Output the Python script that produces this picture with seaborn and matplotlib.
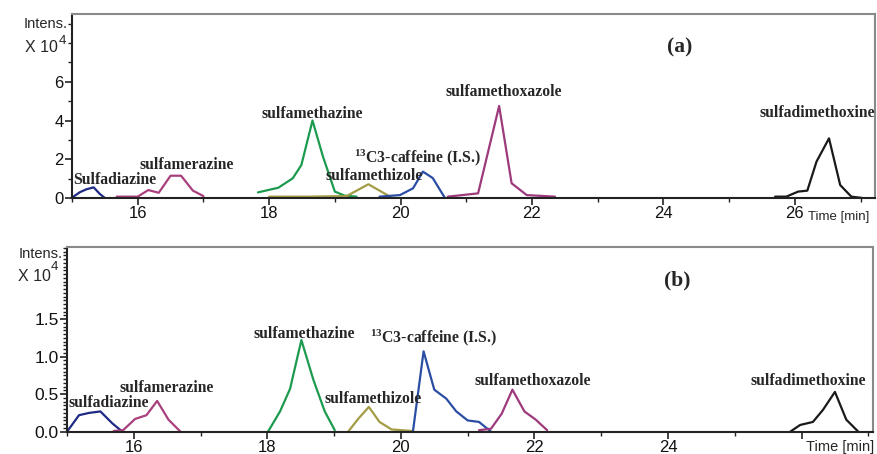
import matplotlib
matplotlib.use("Agg")
import matplotlib.pyplot as plt
from matplotlib.ticker import MultipleLocator
import seaborn as sns
import pandas as pd

# --- panel (a): retention time [min] and intensity [x10^4] ---
a_sulfadiazine_t = [15.0, 15.12, 15.22, 15.33, 15.42, 15.5]
a_sulfadiazine_y = [0.02, 0.3, 0.45, 0.55, 0.22, 0.0]
a_sulfamerazine_t = [15.68, 16.0, 16.16, 16.32, 16.5, 16.66, 16.84, 17.0]
a_sulfamerazine_y = [0.07, 0.07, 0.41, 0.27, 1.15, 1.15, 0.38, 0.1]
a_sulfamethazine_t = [17.83, 18.14, 18.36, 18.49, 18.66, 18.82, 19.0, 19.15, 19.33]
a_sulfamethazine_y = [0.29, 0.53, 1.02, 1.7, 4.0, 2.13, 0.33, 0.12, 0.07]
a_sulfamethizole_t = [18.0, 18.6, 19.18, 19.51, 19.84]
a_sulfamethizole_y = [0.07, 0.07, 0.1, 0.71, 0.07]
a_caffeine_t = [19.68, 19.99, 20.19, 20.34, 20.49, 20.67]
a_caffeine_y = [0.07, 0.15, 0.5, 1.36, 1.03, 0.03]
a_sulfamethoxazole_t = [20.72, 21.18, 21.5, 21.69, 21.92, 22.35]
a_sulfamethoxazole_y = [0.07, 0.24, 4.75, 0.76, 0.15, 0.07]
a_sulfadimethoxine_t = [25.7, 25.87, 26.05, 26.19, 26.33, 26.52, 26.69, 26.86, 27.03]
a_sulfadimethoxine_y = [0.07, 0.07, 0.33, 0.38, 1.88, 3.08, 0.67, 0.07, 0.0]

# --- panel (b) ---
b_sulfadiazine_t = [15.0, 15.18, 15.33, 15.5, 15.68, 15.83]
b_sulfadiazine_y = [0.0, 0.22, 0.25, 0.27, 0.11, 0.0]
b_sulfamerazine_t = [15.7, 15.84, 16.02, 16.19, 16.35, 16.52, 16.7]
b_sulfamerazine_y = [0.01, 0.02, 0.17, 0.22, 0.41, 0.16, 0.0]
b_sulfamethazine_t = [18.01, 18.19, 18.34, 18.51, 18.69, 18.86, 19.01]
b_sulfamethazine_y = [0.0, 0.27, 0.57, 1.22, 0.69, 0.27, 0.02]
b_sulfamethizole_t = [19.21, 19.36, 19.52, 19.68, 19.86, 20.16]
b_sulfamethizole_y = [0.0, 0.17, 0.33, 0.13, 0.03, 0.01]
b_caffeine_t = [20.18, 20.34, 20.5, 20.68, 20.83, 21.0, 21.17, 21.35]
b_caffeine_y = [0.0, 1.07, 0.56, 0.44, 0.27, 0.15, 0.13, 0.0]
b_sulfamethoxazole_t = [21.17, 21.35, 21.51, 21.67, 21.85, 22.02, 22.19]
b_sulfamethoxazole_y = [0.02, 0.04, 0.24, 0.56, 0.27, 0.16, 0.02]
b_sulfadimethoxine_t = [25.83, 25.98, 26.17, 26.32, 26.5, 26.67, 26.85]
b_sulfadimethoxine_y = [0.0, 0.09, 0.13, 0.29, 0.53, 0.16, 0.0]

compounds = ["sulfadiazine", "sulfamerazine", "sulfamethazine", "sulfamethizole",
             "caffeine", "sulfamethoxazole", "sulfadimethoxine"]
colors = {"sulfadiazine": "#1f2a85", "sulfamerazine": "#a8407e",
          "sulfamethazine": "#1c9a4e", "sulfamethizole": "#a39c45",
          "caffeine": "#2a4ea3", "sulfamethoxazole": "#9c3a7c",
          "sulfadimethoxine": "#1a1a1a"}

panel_a = {
    "sulfadiazine": (a_sulfadiazine_t, a_sulfadiazine_y),
    "sulfamerazine": (a_sulfamerazine_t, a_sulfamerazine_y),
    "sulfamethazine": (a_sulfamethazine_t, a_sulfamethazine_y),
    "sulfamethizole": (a_sulfamethizole_t, a_sulfamethizole_y),
    "caffeine": (a_caffeine_t, a_caffeine_y),
    "sulfamethoxazole": (a_sulfamethoxazole_t, a_sulfamethoxazole_y),
    "sulfadimethoxine": (a_sulfadimethoxine_t, a_sulfadimethoxine_y),
}
panel_b = {
    "sulfadiazine": (b_sulfadiazine_t, b_sulfadiazine_y),
    "sulfamerazine": (b_sulfamerazine_t, b_sulfamerazine_y),
    "sulfamethazine": (b_sulfamethazine_t, b_sulfamethazine_y),
    "sulfamethizole": (b_sulfamethizole_t, b_sulfamethizole_y),
    "caffeine": (b_caffeine_t, b_caffeine_y),
    "sulfamethoxazole": (b_sulfamethoxazole_t, b_sulfamethoxazole_y),
    "sulfadimethoxine": (b_sulfadimethoxine_t, b_sulfadimethoxine_y),
}

# label text, x, y (data coords)
labels_a = [("Sulfadiazine", 15.02, 0.93, "left"),
            ("sulfamerazine", 16.74, 1.7, "center"),
            ("sulfamethazine", 18.65, 4.34, "center"),
            ("$^{13}$C3-caffeine (I.S.)", 20.26, 2.1, "center"),
            ("sulfamethizole", 19.6, 1.14, "center"),
            ("sulfamethoxazole", 21.57, 5.48, "center"),
            ("sulfadimethoxine", 26.34, 4.39, "center")]
labels_b = [("sulfadiazine", 15.62, 0.38, "center"),
            ("sulfamerazine", 16.5, 0.58, "center"),
            ("sulfamethazine", 18.56, 1.3, "center"),
            ("$^{13}$C3-caffeine (I.S.)", 20.49, 1.25, "center"),
            ("sulfamethizole", 19.58, 0.44, "center"),
            ("sulfamethoxazole", 21.98, 0.67, "center"),
            ("sulfadimethoxine", 26.1, 0.67, "center")]

sns.set_theme(style="ticks")
plt.rcParams["font.family"] = ["Liberation Sans", "DejaVu Sans"]
plt.rcParams["mathtext.fontset"] = "custom"
plt.rcParams["mathtext.rm"] = "Liberation Serif:bold"
plt.rcParams["mathtext.it"] = "Liberation Serif:bold"
plt.rcParams["mathtext.bf"] = "Liberation Serif:bold"


def to_long(panel):
    rows = []
    for name in compounds:
        t, y = panel[name]
        for ti, yi in zip(t, y):
            rows.append({"time": ti, "intensity": yi, "compound": name})
    return pd.DataFrame(rows)


def draw(ax, panel, labels, xlim, ylim):
    df = to_long(panel)
    sns.lineplot(data=df, x="time", y="intensity", hue="compound", palette=colors,
                 estimator=None, sort=False, linewidth=1.6, legend=False, ax=ax)
    ax.set_xlim(*xlim)
    ax.set_ylim(*ylim)
    ax.set_xlabel("")
    ax.set_ylabel("")
    for txt, x, y, ha in labels:
        ax.text(x, y, txt, ha=ha, va="center", fontsize=11.3, fontweight="bold",
                family="Liberation Serif")
    for side in ["left", "bottom"]:
        ax.spines[side].set_color("#222222")
        ax.spines[side].set_linewidth(1.5)
    for side in ["top", "right"]:
        ax.spines[side].set_color("#8a8a8a")
        ax.spines[side].set_linewidth(1.5)
    ax.xaxis.set_major_locator(MultipleLocator(2))
    ax.xaxis.set_minor_locator(MultipleLocator(1))
    ax.tick_params(axis="both", which="major", direction="out", length=5, width=1.2,
                   color="#222222", pad=1, labelcolor="#111111")
    ax.tick_params(axis="both", which="minor", direction="out", length=3, width=1.0,
                   color="#222222")


fig = plt.figure(figsize=(8.77, 4.54), dpi=100)

# panel (a)
ax1 = fig.add_axes([72 / 877, 1 - 198 / 454, 803 / 877, 184 / 454])
draw(ax1, panel_a, labels_a, (15.0, 27.22), (0, 9.5))
ax1.set_xticks([16, 18, 20, 22, 24, 26])
ax1.set_xticklabels(["16", "18", "20", "22", "24", "26"], fontsize=12)
ax1.yaxis.set_minor_locator(MultipleLocator(1))
ax1.set_yticks([0, 2, 4, 6])
ax1.set_yticklabels(["0", "2", "4", "6"], fontsize=12)
ax1.text(24.25, 7.75, "(a)", ha="center", va="center", fontsize=15.5,
         fontweight="bold", family="Liberation Serif")
ax1.text(-0.006, 0.946, "Intens.", transform=ax1.transAxes, ha="right",
         va="center", fontsize=10.5)
ax1.text(-0.017, 0.82, "X 10", transform=ax1.transAxes, ha="right",
         va="center", fontsize=11.5)
ax1.text(-0.017, 0.855, "4", transform=ax1.transAxes, ha="left",
         va="center", fontsize=9.5)
ax1.text(0.916, -0.105, "Time [min]", transform=ax1.transAxes, ha="left",
         va="center", fontsize=9.5)

# panel (b)
ax2 = fig.add_axes([67 / 877, 1 - 431.7 / 454, 806 / 877, 184.7 / 454])
draw(ax2, panel_b, labels_b, (15.0, 27.07), (0, 2.46))
ax2.set_xticks([16, 18, 20, 22, 24, 26])
ax2.set_xticklabels(["16", "18", "20", "22", "24", ""], fontsize=12)
ax2.yaxis.set_minor_locator(MultipleLocator(0.05))
ax2.set_yticks([0.0, 0.5, 1.0, 1.5])
ax2.set_yticklabels(["0.0", "0.5", "1.0", "1.5"], fontsize=12.5)
ax2.text(24.14, 2.02, "(b)", ha="center", va="center", fontsize=15.5,
         fontweight="bold", family="Liberation Serif")
ax2.text(-0.005, 0.962, "Intens.", transform=ax2.transAxes, ha="right",
         va="center", fontsize=10.5)
ax2.text(-0.02, 0.839, "X 10", transform=ax2.transAxes, ha="right",
         va="center", fontsize=11.5)
ax2.text(-0.02, 0.89, "4", transform=ax2.transAxes, ha="left",
         va="center", fontsize=9.5)
ax2.text(0.917, -0.085, "Time [min]", transform=ax2.transAxes, ha="left",
         va="center", fontsize=10.5)

fig.savefig("out.png", dpi=100)
